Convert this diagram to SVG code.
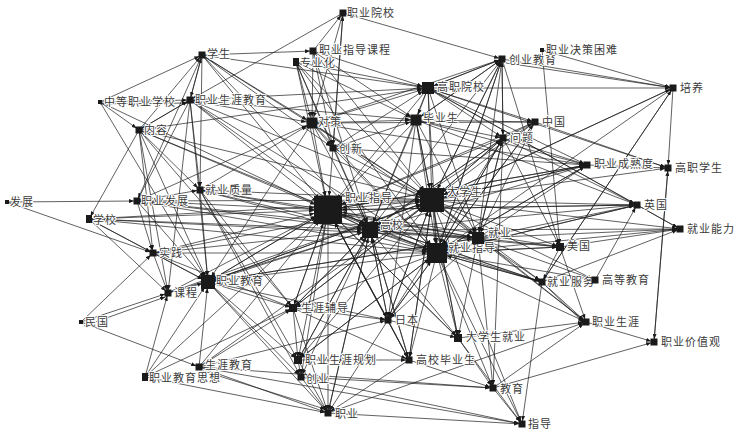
<svg xmlns="http://www.w3.org/2000/svg" width="737" height="434" viewBox="0 0 737 434">
<defs>
<style>
.bg{fill:#fff}
#connectors line{stroke:#1c1c1c;stroke-width:0.7;fill:none}
.t0 line{marker-end:url(#a0)}
.t1 line{marker-end:url(#a1)}
.t2 line{marker-end:url(#a2)}
.t3 line{marker-end:url(#a3)}
.t4 line{marker-end:url(#a4)}
.t5 line{marker-end:url(#a5)}
.nd rect{fill:#1a1a1a}
.nd text{font-family:"Noto Sans CJK SC","Noto Sans",sans-serif;font-size:11px;fill:#3a3a3a;letter-spacing:1px;stroke:#fff;stroke-width:2;paint-order:stroke;stroke-linejoin:round}
</style>
<marker id="a0" markerUnits="userSpaceOnUse" viewBox="0 0 5 4" markerWidth="5" markerHeight="4" refX="8" refY="2" orient="auto"><path d="M0,0 L5,2 L0,4 Z" fill="#1a1a1a"/></marker>
<marker id="a1" markerUnits="userSpaceOnUse" viewBox="0 0 5 4" markerWidth="5" markerHeight="4" refX="11" refY="2" orient="auto"><path d="M0,0 L5,2 L0,4 Z" fill="#1a1a1a"/></marker>
<marker id="a2" markerUnits="userSpaceOnUse" viewBox="0 0 5 4" markerWidth="5" markerHeight="4" refX="13" refY="2" orient="auto"><path d="M0,0 L5,2 L0,4 Z" fill="#1a1a1a"/></marker>
<marker id="a3" markerUnits="userSpaceOnUse" viewBox="0 0 5 4" markerWidth="5" markerHeight="4" refX="15" refY="2" orient="auto"><path d="M0,0 L5,2 L0,4 Z" fill="#1a1a1a"/></marker>
<marker id="a4" markerUnits="userSpaceOnUse" viewBox="0 0 5 4" markerWidth="5" markerHeight="4" refX="17" refY="2" orient="auto"><path d="M0,0 L5,2 L0,4 Z" fill="#1a1a1a"/></marker>
<marker id="a5" markerUnits="userSpaceOnUse" viewBox="0 0 5 4" markerWidth="5" markerHeight="4" refX="19" refY="2" orient="auto"><path d="M0,0 L5,2 L0,4 Z" fill="#1a1a1a"/></marker>
</defs>
<rect class="bg" x="0" y="0" width="737" height="434"/>
<g id="connectors">
<g class="t5">
<line x1="202" y1="55" x2="328" y2="210"/><line x1="296" y1="62" x2="328" y2="210"/><line x1="190" y1="100" x2="328" y2="210"/><line x1="312" y1="123" x2="328" y2="210"/><line x1="416" y1="120" x2="328" y2="210"/><line x1="333" y1="148" x2="328" y2="210"/><line x1="200" y1="190" x2="328" y2="210"/><line x1="137" y1="201" x2="328" y2="210"/><line x1="89" y1="219" x2="328" y2="210"/><line x1="153" y1="253" x2="328" y2="210"/><line x1="168" y1="293" x2="328" y2="210"/><line x1="428" y1="88" x2="328" y2="210"/><line x1="503" y1="138" x2="328" y2="210"/><line x1="139" y1="130" x2="328" y2="210"/><line x1="199" y1="367" x2="328" y2="210"/><line x1="293" y1="308" x2="328" y2="210"/><line x1="208" y1="282" x2="328" y2="210"/><line x1="535" y1="122" x2="328" y2="210"/><line x1="587" y1="165" x2="328" y2="210"/><line x1="637" y1="205" x2="328" y2="210"/><line x1="560" y1="247" x2="328" y2="210"/><line x1="542" y1="282" x2="328" y2="210"/><line x1="388" y1="320" x2="328" y2="210"/><line x1="409" y1="360" x2="328" y2="210"/><line x1="145" y1="377" x2="328" y2="210"/><line x1="458" y1="338" x2="328" y2="210"/>
</g>
<g class="t4">
<line x1="202" y1="55" x2="432" y2="200"/><line x1="313" y1="51" x2="432" y2="200"/><line x1="502" y1="59" x2="432" y2="200"/><line x1="428" y1="88" x2="432" y2="200"/><line x1="673" y1="88" x2="432" y2="200"/><line x1="139" y1="130" x2="432" y2="200"/><line x1="312" y1="123" x2="432" y2="200"/><line x1="416" y1="120" x2="432" y2="200"/><line x1="535" y1="122" x2="432" y2="200"/><line x1="503" y1="138" x2="432" y2="200"/><line x1="333" y1="148" x2="432" y2="200"/><line x1="200" y1="190" x2="432" y2="200"/><line x1="137" y1="201" x2="432" y2="200"/><line x1="89" y1="219" x2="432" y2="200"/><line x1="153" y1="253" x2="432" y2="200"/><line x1="168" y1="293" x2="432" y2="200"/><line x1="328" y1="210" x2="432" y2="200"/><line x1="370" y1="230" x2="432" y2="200"/><line x1="293" y1="308" x2="432" y2="200"/><line x1="388" y1="320" x2="432" y2="200"/><line x1="208" y1="282" x2="432" y2="200"/><line x1="190" y1="100" x2="432" y2="200"/><line x1="199" y1="367" x2="432" y2="200"/><line x1="587" y1="165" x2="432" y2="200"/><line x1="296" y1="62" x2="432" y2="200"/><line x1="409" y1="360" x2="432" y2="200"/>
</g>
<g class="t3">
<line x1="502" y1="59" x2="437" y2="253"/><line x1="190" y1="100" x2="437" y2="253"/><line x1="428" y1="88" x2="437" y2="253"/><line x1="673" y1="88" x2="437" y2="253"/><line x1="312" y1="123" x2="437" y2="253"/><line x1="416" y1="120" x2="437" y2="253"/><line x1="535" y1="122" x2="437" y2="253"/><line x1="503" y1="138" x2="437" y2="253"/><line x1="333" y1="148" x2="437" y2="253"/><line x1="200" y1="190" x2="437" y2="253"/><line x1="137" y1="201" x2="437" y2="253"/><line x1="328" y1="210" x2="437" y2="253"/><line x1="432" y1="200" x2="437" y2="253"/><line x1="370" y1="230" x2="437" y2="253"/><line x1="478" y1="238" x2="437" y2="253"/><line x1="89" y1="219" x2="437" y2="253"/><line x1="637" y1="205" x2="437" y2="253"/><line x1="560" y1="247" x2="437" y2="253"/><line x1="542" y1="282" x2="437" y2="253"/><line x1="388" y1="320" x2="437" y2="253"/><line x1="298" y1="360" x2="437" y2="253"/><line x1="296" y1="62" x2="437" y2="253"/><line x1="139" y1="130" x2="437" y2="253"/><line x1="153" y1="253" x2="437" y2="253"/><line x1="587" y1="165" x2="437" y2="253"/>
</g>
<g class="t2">
<line x1="296" y1="62" x2="370" y2="230"/><line x1="312" y1="123" x2="370" y2="230"/><line x1="416" y1="120" x2="370" y2="230"/><line x1="503" y1="138" x2="370" y2="230"/><line x1="333" y1="148" x2="370" y2="230"/><line x1="200" y1="190" x2="370" y2="230"/><line x1="137" y1="201" x2="370" y2="230"/><line x1="89" y1="219" x2="370" y2="230"/><line x1="153" y1="253" x2="370" y2="230"/><line x1="168" y1="293" x2="370" y2="230"/><line x1="328" y1="210" x2="370" y2="230"/><line x1="190" y1="100" x2="370" y2="230"/><line x1="293" y1="308" x2="370" y2="230"/><line x1="298" y1="360" x2="370" y2="230"/><line x1="409" y1="360" x2="370" y2="230"/><line x1="388" y1="320" x2="370" y2="230"/><line x1="328" y1="413" x2="370" y2="230"/><line x1="535" y1="122" x2="370" y2="230"/><line x1="313" y1="51" x2="370" y2="230"/><line x1="100" y1="102" x2="370" y2="230"/><line x1="428" y1="88" x2="370" y2="230"/><line x1="202" y1="55" x2="370" y2="230"/>
</g>
<g class="t1">
<line x1="202" y1="55" x2="428" y2="88"/><line x1="313" y1="51" x2="428" y2="88"/><line x1="296" y1="62" x2="428" y2="88"/><line x1="190" y1="100" x2="428" y2="88"/><line x1="502" y1="59" x2="428" y2="88"/><line x1="312" y1="123" x2="428" y2="88"/><line x1="333" y1="148" x2="428" y2="88"/><line x1="139" y1="130" x2="428" y2="88"/>
<line x1="202" y1="55" x2="312" y2="123"/><line x1="313" y1="51" x2="312" y2="123"/><line x1="296" y1="62" x2="312" y2="123"/><line x1="190" y1="100" x2="312" y2="123"/><line x1="137" y1="201" x2="312" y2="123"/><line x1="200" y1="190" x2="312" y2="123"/><line x1="343" y1="13" x2="312" y2="123"/>
<line x1="313" y1="51" x2="416" y2="120"/><line x1="502" y1="59" x2="416" y2="120"/><line x1="428" y1="88" x2="416" y2="120"/><line x1="312" y1="123" x2="416" y2="120"/><line x1="333" y1="148" x2="416" y2="120"/><line x1="296" y1="62" x2="416" y2="120"/><line x1="190" y1="100" x2="416" y2="120"/>
<line x1="502" y1="59" x2="478" y2="238"/><line x1="428" y1="88" x2="478" y2="238"/><line x1="312" y1="123" x2="478" y2="238"/><line x1="503" y1="138" x2="478" y2="238"/><line x1="137" y1="201" x2="478" y2="238"/><line x1="432" y1="200" x2="478" y2="238"/><line x1="89" y1="219" x2="478" y2="238"/><line x1="370" y1="230" x2="478" y2="238"/><line x1="535" y1="122" x2="478" y2="238"/><line x1="416" y1="120" x2="478" y2="238"/><line x1="208" y1="282" x2="478" y2="238"/><line x1="200" y1="190" x2="478" y2="238"/><line x1="328" y1="210" x2="478" y2="238"/>
<line x1="100" y1="102" x2="208" y2="282"/><line x1="139" y1="130" x2="208" y2="282"/><line x1="190" y1="100" x2="208" y2="282"/><line x1="328" y1="210" x2="208" y2="282"/><line x1="432" y1="200" x2="208" y2="282"/><line x1="370" y1="230" x2="208" y2="282"/><line x1="437" y1="253" x2="208" y2="282"/><line x1="168" y1="293" x2="208" y2="282"/><line x1="199" y1="367" x2="208" y2="282"/><line x1="145" y1="377" x2="208" y2="282"/><line x1="153" y1="253" x2="208" y2="282"/><line x1="200" y1="190" x2="208" y2="282"/><line x1="137" y1="201" x2="208" y2="282"/><line x1="89" y1="219" x2="208" y2="282"/><line x1="478" y1="238" x2="208" y2="282"/><line x1="312" y1="123" x2="208" y2="282"/>
</g>
<g class="t0">
<line x1="313" y1="51" x2="343" y2="13"/><line x1="333" y1="148" x2="343" y2="13"/>
<line x1="100" y1="102" x2="202" y2="55"/><line x1="190" y1="100" x2="202" y2="55"/><line x1="139" y1="130" x2="202" y2="55"/>
<line x1="202" y1="55" x2="313" y2="51"/>
<line x1="343" y1="13" x2="502" y2="59"/><line x1="428" y1="88" x2="502" y2="59"/><line x1="416" y1="120" x2="502" y2="59"/><line x1="503" y1="138" x2="502" y2="59"/><line x1="432" y1="200" x2="502" y2="59"/><line x1="437" y1="253" x2="502" y2="59"/><line x1="370" y1="230" x2="502" y2="59"/><line x1="312" y1="123" x2="502" y2="59"/>
<line x1="100" y1="102" x2="190" y2="100"/><line x1="100" y1="104" x2="190" y2="103"/><line x1="343" y1="13" x2="190" y2="100"/><line x1="202" y1="55" x2="190" y2="100"/><line x1="139" y1="130" x2="190" y2="100"/>
<line x1="502" y1="59" x2="673" y2="88"/><line x1="506" y1="63" x2="673" y2="88"/><line x1="542" y1="50" x2="673" y2="88"/><line x1="428" y1="88" x2="673" y2="88"/><line x1="542" y1="282" x2="673" y2="88"/><line x1="432" y1="200" x2="673" y2="88"/>
<line x1="100" y1="102" x2="139" y2="130"/><line x1="190" y1="100" x2="139" y2="130"/>
<line x1="416" y1="120" x2="535" y2="122"/><line x1="428" y1="88" x2="535" y2="122"/><line x1="312" y1="123" x2="535" y2="122"/><line x1="503" y1="138" x2="535" y2="122"/><line x1="437" y1="253" x2="535" y2="122"/>
<line x1="428" y1="88" x2="503" y2="138"/><line x1="502" y1="59" x2="503" y2="138"/><line x1="416" y1="120" x2="503" y2="138"/><line x1="432" y1="200" x2="503" y2="138"/><line x1="437" y1="253" x2="503" y2="138"/><line x1="478" y1="238" x2="503" y2="138"/><line x1="370" y1="230" x2="503" y2="138"/><line x1="388" y1="320" x2="503" y2="138"/>
<line x1="296" y1="62" x2="333" y2="148"/><line x1="312" y1="123" x2="333" y2="148"/><line x1="202" y1="55" x2="333" y2="148"/><line x1="343" y1="13" x2="333" y2="148"/><line x1="313" y1="51" x2="333" y2="148"/>
<line x1="428" y1="88" x2="587" y2="165"/><line x1="416" y1="120" x2="587" y2="165"/><line x1="503" y1="138" x2="587" y2="165"/><line x1="432" y1="200" x2="587" y2="165"/><line x1="478" y1="238" x2="587" y2="165"/><line x1="437" y1="253" x2="587" y2="165"/><line x1="328" y1="210" x2="587" y2="165"/><line x1="370" y1="230" x2="587" y2="165"/><line x1="312" y1="123" x2="587" y2="165"/><line x1="333" y1="148" x2="587" y2="165"/>
<line x1="428" y1="88" x2="668" y2="168"/><line x1="535" y1="122" x2="668" y2="168"/><line x1="587" y1="165" x2="668" y2="168"/><line x1="673" y1="88" x2="668" y2="168"/><line x1="654" y1="342" x2="668" y2="168"/><line x1="432" y1="200" x2="668" y2="168"/>
<line x1="202" y1="55" x2="200" y2="190"/><line x1="190" y1="100" x2="200" y2="190"/><line x1="137" y1="201" x2="200" y2="190"/><line x1="139" y1="130" x2="200" y2="190"/>
<line x1="7" y1="202" x2="137" y2="201"/><line x1="190" y1="100" x2="137" y2="201"/><line x1="202" y1="55" x2="137" y2="201"/>
<line x1="139" y1="130" x2="89" y2="219"/>
<line x1="432" y1="200" x2="637" y2="205"/><line x1="478" y1="238" x2="637" y2="205"/><line x1="437" y1="253" x2="637" y2="205"/><line x1="370" y1="230" x2="637" y2="205"/><line x1="328" y1="210" x2="637" y2="205"/><line x1="595" y1="280" x2="637" y2="205"/><line x1="428" y1="88" x2="637" y2="205"/><line x1="416" y1="120" x2="637" y2="205"/><line x1="503" y1="138" x2="637" y2="205"/>
<line x1="478" y1="238" x2="680" y2="229"/><line x1="432" y1="200" x2="680" y2="229"/><line x1="437" y1="253" x2="680" y2="229"/><line x1="560" y1="247" x2="680" y2="229"/><line x1="542" y1="282" x2="680" y2="229"/><line x1="637" y1="205" x2="680" y2="229"/><line x1="370" y1="230" x2="680" y2="229"/><line x1="428" y1="88" x2="680" y2="229"/>
<line x1="432" y1="200" x2="560" y2="247"/><line x1="478" y1="238" x2="560" y2="247"/><line x1="437" y1="253" x2="560" y2="247"/><line x1="542" y1="50" x2="560" y2="247"/><line x1="503" y1="138" x2="560" y2="247"/><line x1="370" y1="230" x2="560" y2="247"/><line x1="502" y1="59" x2="560" y2="247"/>
<line x1="7" y1="202" x2="153" y2="253"/><line x1="137" y1="201" x2="153" y2="253"/><line x1="139" y1="130" x2="153" y2="253"/><line x1="81" y1="322" x2="153" y2="253"/><line x1="89" y1="219" x2="153" y2="253"/>
<line x1="478" y1="238" x2="542" y2="282"/><line x1="432" y1="200" x2="542" y2="282"/><line x1="437" y1="253" x2="542" y2="282"/><line x1="370" y1="230" x2="542" y2="282"/><line x1="328" y1="210" x2="542" y2="282"/><line x1="560" y1="247" x2="542" y2="282"/><line x1="673" y1="88" x2="542" y2="282"/>
<line x1="478" y1="238" x2="595" y2="280"/><line x1="432" y1="200" x2="595" y2="280"/><line x1="437" y1="253" x2="595" y2="280"/>
<line x1="81" y1="322" x2="168" y2="293"/><line x1="84" y1="326" x2="168" y2="296"/><line x1="145" y1="377" x2="168" y2="293"/><line x1="153" y1="253" x2="168" y2="293"/><line x1="89" y1="219" x2="168" y2="293"/><line x1="190" y1="100" x2="168" y2="293"/><line x1="139" y1="130" x2="168" y2="293"/>
<line x1="328" y1="210" x2="293" y2="308"/><line x1="432" y1="200" x2="293" y2="308"/><line x1="370" y1="230" x2="293" y2="308"/><line x1="437" y1="253" x2="293" y2="308"/><line x1="153" y1="253" x2="293" y2="308"/><line x1="199" y1="367" x2="293" y2="308"/><line x1="145" y1="377" x2="293" y2="308"/><line x1="200" y1="190" x2="293" y2="308"/><line x1="208" y1="282" x2="293" y2="308"/><line x1="139" y1="130" x2="293" y2="308"/>
<line x1="328" y1="210" x2="388" y2="320"/><line x1="432" y1="200" x2="388" y2="320"/><line x1="370" y1="230" x2="388" y2="320"/><line x1="437" y1="253" x2="388" y2="320"/><line x1="478" y1="238" x2="388" y2="320"/><line x1="293" y1="308" x2="388" y2="320"/><line x1="208" y1="282" x2="388" y2="320"/><line x1="199" y1="367" x2="388" y2="320"/><line x1="416" y1="120" x2="388" y2="320"/>
<line x1="478" y1="238" x2="586" y2="322"/><line x1="432" y1="200" x2="586" y2="322"/><line x1="437" y1="253" x2="586" y2="322"/><line x1="542" y1="282" x2="586" y2="322"/><line x1="546" y1="286" x2="586" y2="325"/><line x1="560" y1="247" x2="586" y2="322"/><line x1="493" y1="388" x2="586" y2="322"/><line x1="458" y1="338" x2="586" y2="322"/><line x1="328" y1="413" x2="586" y2="322"/>
<line x1="432" y1="200" x2="458" y2="338"/><line x1="437" y1="253" x2="458" y2="338"/><line x1="478" y1="238" x2="458" y2="338"/><line x1="370" y1="230" x2="458" y2="338"/><line x1="328" y1="210" x2="458" y2="338"/><line x1="388" y1="320" x2="458" y2="338"/><line x1="416" y1="120" x2="458" y2="338"/>
<line x1="586" y1="322" x2="654" y2="342"/><line x1="493" y1="388" x2="654" y2="342"/><line x1="668" y1="168" x2="654" y2="342"/>
<line x1="328" y1="210" x2="298" y2="360"/><line x1="370" y1="230" x2="298" y2="360"/><line x1="437" y1="253" x2="298" y2="360"/><line x1="432" y1="200" x2="298" y2="360"/><line x1="208" y1="282" x2="298" y2="360"/><line x1="200" y1="190" x2="298" y2="360"/><line x1="293" y1="308" x2="298" y2="360"/>
<line x1="432" y1="200" x2="409" y2="360"/><line x1="437" y1="253" x2="409" y2="360"/><line x1="370" y1="230" x2="409" y2="360"/><line x1="328" y1="210" x2="409" y2="360"/><line x1="298" y1="360" x2="409" y2="360"/><line x1="388" y1="320" x2="409" y2="360"/><line x1="293" y1="308" x2="409" y2="360"/>
<line x1="81" y1="322" x2="199" y2="367"/>
<line x1="328" y1="210" x2="301" y2="377"/><line x1="370" y1="230" x2="301" y2="377"/><line x1="298" y1="360" x2="301" y2="377"/><line x1="208" y1="282" x2="301" y2="377"/><line x1="200" y1="190" x2="301" y2="377"/>
<line x1="458" y1="338" x2="493" y2="388"/><line x1="409" y1="360" x2="493" y2="388"/><line x1="301" y1="377" x2="493" y2="388"/><line x1="437" y1="253" x2="493" y2="388"/><line x1="478" y1="238" x2="493" y2="388"/><line x1="503" y1="138" x2="493" y2="388"/><line x1="199" y1="367" x2="493" y2="388"/>
<line x1="328" y1="210" x2="328" y2="413"/><line x1="370" y1="230" x2="328" y2="413"/><line x1="388" y1="320" x2="328" y2="413"/><line x1="145" y1="377" x2="328" y2="413"/><line x1="199" y1="367" x2="328" y2="413"/><line x1="203" y1="371" x2="328" y2="410"/><line x1="301" y1="377" x2="328" y2="413"/><line x1="298" y1="360" x2="328" y2="413"/><line x1="293" y1="308" x2="328" y2="413"/><line x1="208" y1="282" x2="328" y2="413"/><line x1="409" y1="360" x2="328" y2="413"/>
<line x1="493" y1="388" x2="522" y2="424"/><line x1="542" y1="282" x2="522" y2="424"/><line x1="437" y1="253" x2="522" y2="424"/><line x1="432" y1="200" x2="522" y2="424"/><line x1="458" y1="338" x2="522" y2="424"/><line x1="199" y1="367" x2="522" y2="424"/><line x1="301" y1="377" x2="522" y2="424"/><line x1="328" y1="413" x2="522" y2="424"/>
</g>
</g>
<g id="nodes" class="nd">
<g id="n-zhiyeyuanxiao"><rect x="339.5" y="9.5" width="7" height="7"/><text x="347" y="17">职业院校</text></g>
<g id="n-xuesheng"><rect x="198.5" y="51.5" width="7" height="7"/><text x="207" y="58">学生</text></g>
<g id="n-zhiyezhidaokecheng"><rect x="309.5" y="47.5" width="7" height="7"/><text x="319" y="54">职业指导课程</text></g>
<g id="n-zhuanyehua"><rect x="293" y="58" width="6" height="8"/><text x="300" y="67">专业化</text></g>
<g id="n-chuangyejiaoyu"><rect x="498.5" y="55.5" width="7" height="7"/><text x="509" y="64">创业教育</text></g>
<g id="n-juecekunnan"><rect x="540" y="48" width="4" height="4"/><text x="546" y="54">职业决策困难</text></g>
<g id="n-zhongdeng"><rect x="98" y="100" width="4" height="4"/><text x="104" y="106">中等职业学校</text></g>
<g id="n-shengyajiaoyu"><rect x="186.5" y="96.5" width="7" height="7"/><text x="195" y="104">职业生涯教育</text></g>
<g id="n-gaozhiyuanxiao"><rect x="422" y="82" width="12" height="12"/><text x="437" y="91">高职院校</text></g>
<g id="n-peiyang"><rect x="669.5" y="84.5" width="7" height="7"/><text x="680" y="92">培养</text></g>
<g id="n-neirong"><rect x="135.5" y="126.5" width="7" height="7"/><text x="144" y="134">内容</text></g>
<g id="n-duice"><rect x="306.5" y="117.5" width="11" height="11"/><text x="318" y="126">对策</text></g>
<g id="n-biyesheng"><rect x="410.5" y="114.5" width="11" height="11"/><text x="423" y="122">毕业生</text></g>
<g id="n-zhongguo"><rect x="531.5" y="118.5" width="7" height="7"/><text x="542" y="126">中国</text></g>
<g id="n-wenti"><rect x="499.5" y="134.5" width="7" height="7"/><text x="510" y="142">问题</text></g>
<g id="n-chuangxin"><rect x="329.5" y="144.5" width="7" height="7"/><text x="339" y="153">创新</text></g>
<g id="n-chengshudu"><rect x="583.5" y="161.5" width="7" height="7"/><text x="594" y="168">职业成熟度</text></g>
<g id="n-gaozhixuesheng"><rect x="664.5" y="164.5" width="7" height="7"/><text x="675" y="172">高职学生</text></g>
<g id="n-jiuyezhiliang"><rect x="196.5" y="186.5" width="7" height="7"/><text x="205" y="194">就业质量</text></g>
<g id="n-zhiyefazhan"><rect x="133.5" y="197.5" width="7" height="7"/><text x="141" y="205">职业发展</text></g>
<g id="n-fazhan"><rect x="5" y="200" width="4" height="4"/><text x="10" y="206">发展</text></g>
<g id="n-zhiyezhidao"><rect x="314" y="196" width="28" height="28"/><text x="345" y="202">职业指导</text></g>
<g id="n-daxuesheng"><rect x="420" y="188" width="24" height="24"/><text x="447" y="196">大学生</text></g>
<g id="n-gaoxiao"><rect x="362" y="222" width="16" height="16"/><text x="380" y="229">高校</text></g>
<g id="n-jiuyezhidao"><rect x="427" y="243" width="20" height="20"/><text x="448" y="252">就业指导</text></g>
<g id="n-jiuye"><rect x="472" y="232" width="12" height="12"/><text x="488" y="237">就业</text></g>
<g id="n-xuexiao"><rect x="86" y="215" width="6" height="8"/><text x="93" y="224">学校</text></g>
<g id="n-yingguo"><rect x="633.5" y="201.5" width="7" height="7"/><text x="644" y="209">英国</text></g>
<g id="n-jiuyenengli"><rect x="676.5" y="225.5" width="7" height="7"/><text x="687" y="233">就业能力</text></g>
<g id="n-meiguo"><rect x="556" y="243" width="8" height="8"/><text x="567" y="250">美国</text></g>
<g id="n-shijian"><rect x="149.5" y="249.5" width="7" height="7"/><text x="159" y="257">实践</text></g>
<g id="n-zhiyejiaoyu"><rect x="201" y="275" width="14" height="14"/><text x="216" y="285">职业教育</text></g>
<g id="n-jiuyefuwu"><rect x="538.5" y="278.5" width="7" height="7"/><text x="547" y="286">就业服务</text></g>
<g id="n-gaodengjiaoyu"><rect x="591.5" y="276.5" width="7" height="7"/><text x="602" y="284">高等教育</text></g>
<g id="n-kecheng"><rect x="164.5" y="289.5" width="7" height="7"/><text x="174" y="297">课程</text></g>
<g id="n-minguo"><rect x="79" y="320" width="4" height="4"/><text x="85" y="326">民国</text></g>
<g id="n-shengyafudao"><rect x="289" y="304" width="8" height="8"/><text x="301" y="312">生涯辅导</text></g>
<g id="n-riben"><rect x="384.5" y="316.5" width="7" height="7"/><text x="395" y="324">日本</text></g>
<g id="n-zhiyeshengya"><rect x="582.5" y="318.5" width="7" height="7"/><text x="592" y="326">职业生涯</text></g>
<g id="n-daxueshengjiuye"><rect x="454" y="334" width="8" height="8"/><text x="466" y="341">大学生就业</text></g>
<g id="n-jiazhiguan"><rect x="650.5" y="338.5" width="7" height="7"/><text x="661" y="346">职业价值观</text></g>
<g id="n-shengyaguihua"><rect x="294" y="356" width="8" height="8"/><text x="305" y="364">职业生涯规划</text></g>
<g id="n-gaoxiaobiyesheng"><rect x="405.5" y="356.5" width="7" height="7"/><text x="416" y="364">高校毕业生</text></g>
<g id="n-shengya-jiaoyu"><rect x="195.5" y="363.5" width="7" height="7"/><text x="205" y="369">生涯教育</text></g>
<g id="n-sixiang"><rect x="142" y="373" width="6" height="8"/><text x="149" y="382">职业教育思想</text></g>
<g id="n-chuangye"><rect x="297.5" y="373.5" width="7" height="7"/><text x="306" y="383">创业</text></g>
<g id="n-jiaoyu"><rect x="489.5" y="384.5" width="7" height="7"/><text x="500" y="393">教育</text></g>
<g id="n-zhiye"><rect x="324.5" y="409.5" width="7" height="7"/><text x="335" y="418">职业</text></g>
<g id="n-zhidao"><rect x="518.5" y="420.5" width="7" height="7"/><text x="528" y="428">指导</text></g>
</g>
</svg>
